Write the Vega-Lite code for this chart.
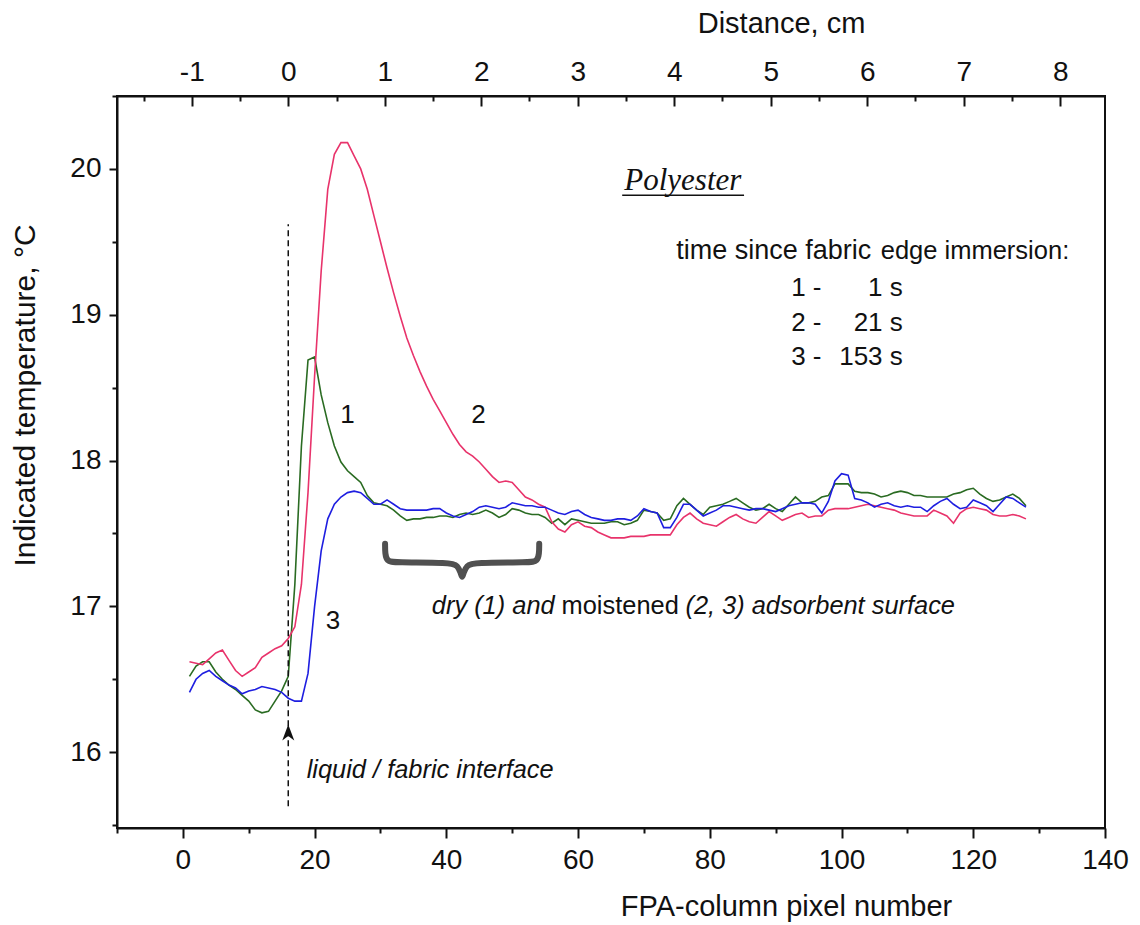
{
  "$schema": "https://vega.github.io/schema/vega-lite/v6.json",
  "width": 988,
  "height": 732,
  "autosize": {"type": "none"},
  "padding": {"left": 117, "top": 96, "right": 35, "bottom": 97},
  "background": "white",
  "config": {
    "view": {"stroke": "#111", "strokeWidth": 2},
    "axis": {
      "labelFont": "Liberation Sans", "titleFont": "Liberation Sans",
      "labelColor": "#111", "titleColor": "#111", "tickColor": "#111", "domainColor": "#111",
      "domainWidth": 2, "tickWidth": 2, "grid": false, "titleFontWeight": "normal",
      "labelFontSize": 28, "titleFontSize": 29, "labelFlush": false, "labelOverlap": false
    }
  },
  "datasets": {
    "curves": [
      {"pixel":1,"c1":16.52,"c2":16.62,"c3":16.41},{"pixel":2,"c1":16.59,"c2":16.61,"c3":16.50},{"pixel":3,"c1":16.62,"c2":16.60,"c3":16.54},{"pixel":4,"c1":16.62,"c2":16.64,"c3":16.56},{"pixel":5,"c1":16.55,"c2":16.68,"c3":16.52},
      {"pixel":6,"c1":16.50,"c2":16.70,"c3":16.49},{"pixel":7,"c1":16.46,"c2":16.63,"c3":16.46},{"pixel":8,"c1":16.43,"c2":16.56,"c3":16.44},{"pixel":9,"c1":16.39,"c2":16.52,"c3":16.40},{"pixel":10,"c1":16.35,"c2":16.55,"c3":16.42},
      {"pixel":11,"c1":16.29,"c2":16.58,"c3":16.43},{"pixel":12,"c1":16.27,"c2":16.65,"c3":16.45},{"pixel":13,"c1":16.28,"c2":16.68,"c3":16.44},{"pixel":14,"c1":16.35,"c2":16.71,"c3":16.43},{"pixel":15,"c1":16.42,"c2":16.73,"c3":16.41},
      {"pixel":16,"c1":16.52,"c2":16.78,"c3":16.37},{"pixel":17,"c1":17.15,"c2":16.86,"c3":16.35},{"pixel":18,"c1":18.10,"c2":17.15,"c3":16.35},{"pixel":19,"c1":18.69,"c2":17.78,"c3":16.54},{"pixel":20,"c1":18.71,"c2":18.58,"c3":17.00},
      {"pixel":21,"c1":18.45,"c2":19.30,"c3":17.38},{"pixel":22,"c1":18.26,"c2":19.86,"c3":17.60},{"pixel":23,"c1":18.10,"c2":20.10,"c3":17.70},{"pixel":24,"c1":17.99,"c2":20.18,"c3":17.75},{"pixel":25,"c1":17.93,"c2":20.18,"c3":17.78},
      {"pixel":26,"c1":17.89,"c2":20.09,"c3":17.79},{"pixel":27,"c1":17.85,"c2":20.00,"c3":17.78},{"pixel":28,"c1":17.76,"c2":19.86,"c3":17.74},{"pixel":29,"c1":17.71,"c2":19.68,"c3":17.70},{"pixel":30,"c1":17.70,"c2":19.50,"c3":17.70},
      {"pixel":31,"c1":17.69,"c2":19.32,"c3":17.73},{"pixel":32,"c1":17.66,"c2":19.15,"c3":17.70},{"pixel":33,"c1":17.62,"c2":18.99,"c3":17.67},{"pixel":34,"c1":17.59,"c2":18.84,"c3":17.66},{"pixel":35,"c1":17.60,"c2":18.72,"c3":17.66},
      {"pixel":36,"c1":17.60,"c2":18.61,"c3":17.66},{"pixel":37,"c1":17.61,"c2":18.51,"c3":17.66},{"pixel":38,"c1":17.61,"c2":18.42,"c3":17.67},{"pixel":39,"c1":17.62,"c2":18.34,"c3":17.67},{"pixel":40,"c1":17.62,"c2":18.26,"c3":17.64},
      {"pixel":41,"c1":17.61,"c2":18.18,"c3":17.62},{"pixel":42,"c1":17.63,"c2":18.11,"c3":17.61},{"pixel":43,"c1":17.64,"c2":18.06,"c3":17.63},{"pixel":44,"c1":17.63,"c2":18.03,"c3":17.65},{"pixel":45,"c1":17.64,"c2":17.99,"c3":17.68},
      {"pixel":46,"c1":17.66,"c2":17.94,"c3":17.69},{"pixel":47,"c1":17.64,"c2":17.89,"c3":17.68},{"pixel":48,"c1":17.61,"c2":17.85,"c3":17.67},{"pixel":49,"c1":17.63,"c2":17.86,"c3":17.68},{"pixel":50,"c1":17.67,"c2":17.85,"c3":17.71},
      {"pixel":51,"c1":17.66,"c2":17.80,"c3":17.70},{"pixel":52,"c1":17.64,"c2":17.75,"c3":17.69},{"pixel":53,"c1":17.63,"c2":17.73,"c3":17.69},{"pixel":54,"c1":17.63,"c2":17.70,"c3":17.68},{"pixel":55,"c1":17.61,"c2":17.68,"c3":17.68},
      {"pixel":56,"c1":17.57,"c2":17.58,"c3":17.66},{"pixel":57,"c1":17.60,"c2":17.53,"c3":17.64},{"pixel":58,"c1":17.56,"c2":17.51,"c3":17.63},{"pixel":59,"c1":17.60,"c2":17.56,"c3":17.65},{"pixel":60,"c1":17.59,"c2":17.58,"c3":17.66},
      {"pixel":61,"c1":17.58,"c2":17.55,"c3":17.63},{"pixel":62,"c1":17.57,"c2":17.54,"c3":17.61},{"pixel":63,"c1":17.57,"c2":17.51,"c3":17.60},{"pixel":64,"c1":17.57,"c2":17.49,"c3":17.59},{"pixel":65,"c1":17.58,"c2":17.47,"c3":17.59},
      {"pixel":66,"c1":17.58,"c2":17.47,"c3":17.60},{"pixel":67,"c1":17.56,"c2":17.47,"c3":17.60},{"pixel":68,"c1":17.57,"c2":17.48,"c3":17.59},{"pixel":69,"c1":17.59,"c2":17.48,"c3":17.62},{"pixel":70,"c1":17.66,"c2":17.48,"c3":17.67},
      {"pixel":71,"c1":17.65,"c2":17.49,"c3":17.65},{"pixel":72,"c1":17.64,"c2":17.49,"c3":17.64},{"pixel":73,"c1":17.59,"c2":17.49,"c3":17.54},{"pixel":74,"c1":17.60,"c2":17.49,"c3":17.54},{"pixel":75,"c1":17.69,"c2":17.56,"c3":17.61},
      {"pixel":76,"c1":17.74,"c2":17.61,"c3":17.70},{"pixel":77,"c1":17.70,"c2":17.64,"c3":17.70},{"pixel":78,"c1":17.66,"c2":17.60,"c3":17.66},{"pixel":79,"c1":17.63,"c2":17.57,"c3":17.62},{"pixel":80,"c1":17.68,"c2":17.56,"c3":17.64},
      {"pixel":81,"c1":17.69,"c2":17.55,"c3":17.66},{"pixel":82,"c1":17.70,"c2":17.58,"c3":17.69},{"pixel":83,"c1":17.72,"c2":17.61,"c3":17.69},{"pixel":84,"c1":17.74,"c2":17.63,"c3":17.68},{"pixel":85,"c1":17.71,"c2":17.60,"c3":17.67},
      {"pixel":86,"c1":17.68,"c2":17.58,"c3":17.66},{"pixel":87,"c1":17.66,"c2":17.57,"c3":17.67},{"pixel":88,"c1":17.67,"c2":17.61,"c3":17.67},{"pixel":89,"c1":17.70,"c2":17.65,"c3":17.66},{"pixel":90,"c1":17.67,"c2":17.62,"c3":17.65},
      {"pixel":91,"c1":17.65,"c2":17.59,"c3":17.67},{"pixel":92,"c1":17.70,"c2":17.61,"c3":17.69},{"pixel":93,"c1":17.75,"c2":17.63,"c3":17.70},{"pixel":94,"c1":17.71,"c2":17.64,"c3":17.71},{"pixel":95,"c1":17.71,"c2":17.61,"c3":17.71},
      {"pixel":96,"c1":17.72,"c2":17.62,"c3":17.70},{"pixel":97,"c1":17.75,"c2":17.62,"c3":17.64},{"pixel":98,"c1":17.76,"c2":17.66,"c3":17.72},{"pixel":99,"c1":17.84,"c2":17.67,"c3":17.86},{"pixel":100,"c1":17.84,"c2":17.67,"c3":17.91},
      {"pixel":101,"c1":17.84,"c2":17.67,"c3":17.90},{"pixel":102,"c1":17.79,"c2":17.68,"c3":17.74},{"pixel":103,"c1":17.78,"c2":17.69,"c3":17.73},{"pixel":104,"c1":17.78,"c2":17.70,"c3":17.71},{"pixel":105,"c1":17.77,"c2":17.69,"c3":17.68},
      {"pixel":106,"c1":17.75,"c2":17.68,"c3":17.70},{"pixel":107,"c1":17.76,"c2":17.67,"c3":17.71},{"pixel":108,"c1":17.78,"c2":17.66,"c3":17.69},{"pixel":109,"c1":17.79,"c2":17.64,"c3":17.68},{"pixel":110,"c1":17.78,"c2":17.63,"c3":17.69},
      {"pixel":111,"c1":17.76,"c2":17.62,"c3":17.68},{"pixel":112,"c1":17.76,"c2":17.62,"c3":17.68},{"pixel":113,"c1":17.75,"c2":17.62,"c3":17.65},{"pixel":114,"c1":17.75,"c2":17.66,"c3":17.69},{"pixel":115,"c1":17.75,"c2":17.64,"c3":17.72},
      {"pixel":116,"c1":17.75,"c2":17.62,"c3":17.74},{"pixel":117,"c1":17.77,"c2":17.57,"c3":17.70},{"pixel":118,"c1":17.78,"c2":17.64,"c3":17.67},{"pixel":119,"c1":17.80,"c2":17.67,"c3":17.68},{"pixel":120,"c1":17.81,"c2":17.68,"c3":17.73},
      {"pixel":121,"c1":17.77,"c2":17.67,"c3":17.71},{"pixel":122,"c1":17.74,"c2":17.66,"c3":17.69},{"pixel":123,"c1":17.72,"c2":17.63,"c3":17.65},{"pixel":124,"c1":17.73,"c2":17.62,"c3":17.70},{"pixel":125,"c1":17.75,"c2":17.62,"c3":17.75},
      {"pixel":126,"c1":17.77,"c2":17.63,"c3":17.74},{"pixel":127,"c1":17.74,"c2":17.62,"c3":17.71},{"pixel":128,"c1":17.69,"c2":17.60,"c3":17.68}
    ],
    "notes": [
      {"kind":"vline","pixel":16,"temp":15.63,"temp2":19.62},
      {"kind":"arrow","pixel":16,"temp":16.135},
      {"kind":"brace","order":1,"pixel":30.7,"temp":17.43},
      {"kind":"brace","order":2,"pixel":30.7,"temp":17.36},
      {"kind":"brace","order":3,"pixel":31.0,"temp":17.31},
      {"kind":"brace","order":4,"pixel":32.0,"temp":17.30},
      {"kind":"brace","order":5,"pixel":40.7,"temp":17.30},
      {"kind":"brace","order":6,"pixel":41.7,"temp":17.28},
      {"kind":"brace","order":7,"pixel":42.2,"temp":17.23},
      {"kind":"brace","order":8,"pixel":42.4,"temp":17.19},
      {"kind":"brace","order":9,"pixel":42.6,"temp":17.23},
      {"kind":"brace","order":10,"pixel":43.1,"temp":17.28},
      {"kind":"brace","order":11,"pixel":44.1,"temp":17.30},
      {"kind":"brace","order":12,"pixel":52.8,"temp":17.30},
      {"kind":"brace","order":13,"pixel":53.8,"temp":17.31},
      {"kind":"brace","order":14,"pixel":54.1,"temp":17.36},
      {"kind":"brace","order":15,"pixel":54.1,"temp":17.43},
      {"kind":"num","pixel":25.0,"temp":18.31,"label":"1"},
      {"kind":"num","pixel":44.9,"temp":18.31,"label":"2"},
      {"kind":"num","pixel":22.8,"temp":16.90,"label":"3"},
      {"kind":"it","pixel":18.8,"temp":15.88,"label":"liquid / fabric interface"},
      {"kind":"it","pixel":37.8,"temp":17.0,"label":"dry (1) and"},
      {"kind":"nm","pixel":57.5,"temp":17.0,"label":"moistened"},
      {"kind":"it","pixel":76.3,"temp":17.0,"label":"(2, 3) adsorbent surface"},
      {"kind":"poly","pixel":75.9,"temp":19.854,"label":"Polyester"},
      {"kind":"uline","pixel":66.7,"pixel2":85.2,"temp":19.819},
      {"kind":"lg27","pixel":74.9,"temp":19.381,"label":"time since fabric"},
      {"kind":"lg25","pixel":105.95,"temp":19.381,"label":"edge immersion:"},
      {"kind":"lg26","pixel":92.35,"temp":19.127,"label":"1 -"},
      {"kind":"lg26","pixel":92.35,"temp":18.891,"label":"2 -"},
      {"kind":"lg26","pixel":92.35,"temp":18.654,"label":"3 -"},
      {"kind":"lgR","pixel":109.3,"temp":19.127,"label":"1 s"},
      {"kind":"lgR","pixel":109.3,"temp":18.891,"label":"21 s"},
      {"kind":"lgR","pixel":109.3,"temp":18.654,"label":"153 s"}
    ]
  },
  "encoding": {
    "x": {"field": "pixel", "type": "quantitative", "scale": {"domain": [-10, 140], "nice": false, "zero": false}, "axis": null},
    "y": {"field": "temp", "type": "quantitative", "scale": {"domain": [15.48, 20.5], "nice": false, "zero": false}, "axis": null}
  },
  "layer": [
    {
      "data": {"name": "curves"},
      "transform": [{"fold": ["c1", "c2", "c3"], "as": ["series", "temp"]}],
      "mark": {"type": "line", "strokeWidth": 1.6},
      "encoding": {
        "x": {"field": "pixel", "type": "quantitative", "scale": {"domain": [-10, 140], "nice": false, "zero": false},
          "axis": {"orient": "bottom", "values": [-10,0,10,20,30,40,50,60,70,80,90,100,110,120,130,140],
            "labelExpr": "datum.value % 20 === 0 ? datum.label : ''",
            "tickSize": {"condition": {"test": "datum.value % 20 === 0", "value": 10}, "value": 5},
            "labelPadding": 8, "title": "FPA-column pixel number",
            "titleX": 669, "titleY": 78, "titleBaseline": "middle", "titleAlign": "center"}},
        "y": {"field": "temp", "type": "quantitative", "scale": {"domain": [15.48, 20.5], "nice": false, "zero": false},
          "axis": {"orient": "left", "values": [15.5,16,16.5,17,17.5,18,18.5,19,19.5,20,20.5], "tickCount": 50,
            "labelExpr": "datum.value % 1 === 0 ? format(datum.value, 'd') : ''",
            "tickSize": {"condition": {"test": "datum.value % 1 === 0", "value": 8}, "value": 5},
            "labelPadding": 8, "title": "Indicated temperature, °C", "titleFontSize": 30,
            "titleAngle": -90, "titleX": -92, "titleY": 299, "titleBaseline": "middle", "titleAlign": "center"}},
        "color": {"field": "series", "type": "nominal", "scale": {"domain": ["c1", "c2", "c3"], "range": ["#2a6b22", "#e8336b", "#1e1ee0"]}, "legend": null}
      }
    },
    {
      "data": {"name": "notes"},
      "transform": [{"filter": "datum.kind === 'vline'"}],
      "mark": {"type": "rule", "color": "#111", "strokeWidth": 1.5, "strokeDash": [6, 4]},
      "encoding": {
        "x": {"field": "pixel", "type": "quantitative", "scale": {"domain": [-10, 140], "nice": false, "zero": false},
          "axis": {"orient": "top",
            "values": [-5.975,1.35,8.675,16,23.325,30.65,37.975,45.3,52.625,59.95,67.275,74.6,81.925,89.25,96.575,103.9,111.225,118.55,125.875,133.2],
            "labelExpr": "abs((datum.value-16)/14.65 - round((datum.value-16)/14.65)) < 0.01 ? '' + round((datum.value-16)/14.65) : ''",
            "tickSize": {"condition": {"test": "abs((datum.value-16)/14.65 - round((datum.value-16)/14.65)) < 0.01", "value": -10}, "value": -5},
            "labelPadding": 20, "title": "Distance, cm",
            "titleX": 664, "titleY": -73, "titleBaseline": "middle", "titleAlign": "center"}},
        "y2": {"field": "temp2"}
      }
    },
    {
      "data": {"name": "notes"},
      "transform": [{"filter": "datum.kind === 'arrow'"}],
      "mark": {"type": "point", "shape": "M0,-1L0.75,1L0,0.45L-0.75,1Z", "size": 256, "filled": true, "color": "#111", "opacity": 1}
    },
    {
      "data": {"name": "notes"},
      "transform": [{"filter": "datum.kind === 'brace'"}],
      "mark": {"type": "line", "interpolate": "basis", "color": "#505050", "strokeWidth": 6, "strokeCap": "round", "strokeJoin": "round"},
      "encoding": {"order": {"field": "order", "type": "quantitative"}}
    },
    {
      "data": {"name": "notes"},
      "transform": [{"filter": "datum.kind === 'uline'"}],
      "mark": {"type": "rule", "color": "#111", "strokeWidth": 1.5},
      "encoding": {"x2": {"field": "pixel2"}}
    },
    {
      "data": {"name": "notes"},
      "transform": [{"filter": "datum.kind === 'num'"}],
      "mark": {"type": "text", "font": "Liberation Sans", "fontSize": 26, "align": "center", "baseline": "middle", "color": "#111"},
      "encoding": {"text": {"field": "label"}}
    },
    {
      "data": {"name": "notes"},
      "transform": [{"filter": "datum.kind === 'it'"}],
      "mark": {"type": "text", "font": "Liberation Sans", "fontSize": 25.4, "fontStyle": "italic", "align": "left", "baseline": "middle", "color": "#111"},
      "encoding": {"text": {"field": "label"}}
    },
    {
      "data": {"name": "notes"},
      "transform": [{"filter": "datum.kind === 'nm'"}],
      "mark": {"type": "text", "font": "Liberation Sans", "fontSize": 25.4, "align": "left", "baseline": "middle", "color": "#111"},
      "encoding": {"text": {"field": "label"}}
    },
    {
      "data": {"name": "notes"},
      "transform": [{"filter": "datum.kind === 'poly'"}],
      "mark": {"type": "text", "font": "Liberation Serif", "fontSize": 31, "fontStyle": "italic", "align": "center", "baseline": "alphabetic", "color": "#111"},
      "encoding": {"text": {"field": "label"}}
    },
    {
      "data": {"name": "notes"},
      "transform": [{"filter": "datum.kind === 'lg27'"}],
      "mark": {"type": "text", "font": "Liberation Sans", "fontSize": 27, "align": "left", "baseline": "alphabetic", "color": "#111"},
      "encoding": {"text": {"field": "label"}}
    },
    {
      "data": {"name": "notes"},
      "transform": [{"filter": "datum.kind === 'lg25'"}],
      "mark": {"type": "text", "font": "Liberation Sans", "fontSize": 25.5, "align": "left", "baseline": "alphabetic", "color": "#111"},
      "encoding": {"text": {"field": "label"}}
    },
    {
      "data": {"name": "notes"},
      "transform": [{"filter": "datum.kind === 'lg26'"}],
      "mark": {"type": "text", "font": "Liberation Sans", "fontSize": 26, "align": "left", "baseline": "alphabetic", "color": "#111"},
      "encoding": {"text": {"field": "label"}}
    },
    {
      "data": {"name": "notes"},
      "transform": [{"filter": "datum.kind === 'lgR'"}],
      "mark": {"type": "text", "font": "Liberation Sans", "fontSize": 26, "align": "right", "baseline": "alphabetic", "color": "#111"},
      "encoding": {"text": {"field": "label"}}
    }
  ],
  "resolve": {"axis": {"x": "independent", "y": "independent"}}
}
